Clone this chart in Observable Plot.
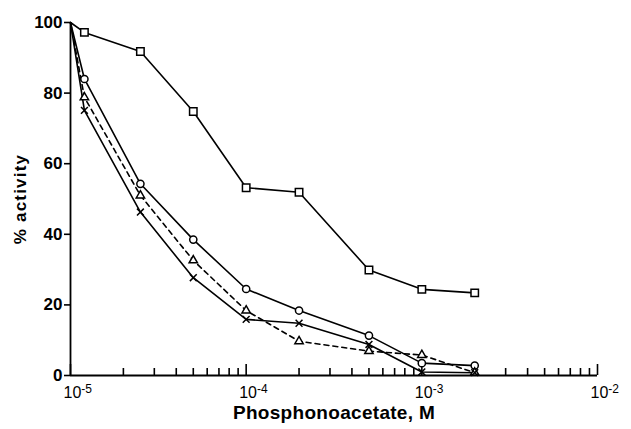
<!DOCTYPE html>
<html>
<head>
<meta charset="utf-8">
<script src="https://cdn.jsdelivr.net/npm/d3@7"></script>
<script src="https://cdn.jsdelivr.net/npm/@observablehq/plot@0.6"></script>
<style>
  html, body { margin: 0; padding: 0; background: #fff; }
  svg { font-family: "Liberation Sans", Arial, sans-serif; }
</style>
</head>
<body>
<div id="chart"></div>
<script>
// Concentrations of phosphonoacetate (M)
const conc = [1e-5, 1.2e-5, 2.5e-5, 5e-5, 1e-4, 2e-4, 5e-4, 1e-3, 2e-3];
// % activity for each series
const squareSeries   = [100, 97.2, 91.8, 74.8, 53.2, 51.9, 29.9, 24.4, 23.4];
const circleSeries   = [100, 84.0, 54.3, 38.5, 24.5, 18.4, 11.3, 3.5, 2.8];
const triangleSeries = [100, 78.8, 51.0, 32.6, 18.4, 9.7, 6.9, 5.8, 0.8];
const crossSeries    = [100, 75.1, 46.3, 27.7, 15.9, 14.8, 8.8, 1.0, 0.8];

const yTicks = [0, 20, 40, 60, 80, 100];
const xMajor = [1e-5, 1e-4, 1e-3, 1e-2];
const xMajorLabels = ["10^-5", "10^-4", "10^-3", "10^-2"];
const xMinor = [];
for (const dec of [1e-5, 1e-4, 1e-3]) for (let m = 2; m <= 9; m++) xMinor.push(m * dec);

const yTitle = "% activity";
const xTitle = "Phosphonoacetate, M";

const series = [
  {name: "square", values: squareSeries, symbol: "square", r: 4.2, dash: null},
  {name: "circle", values: circleSeries, symbol: "circle", r: 3.6, dash: null},
  {name: "triangle", values: triangleSeries, symbol: "triangle", r: 3.1, dash: "5,4"},
  {name: "cross", values: crossSeries, symbol: "times", r: 3.2, dash: null}
];

const lineMarks = series.map(s => Plot.line(conc.map((c, i) => ({x: c, y: s.values[i]})), {
  x: "x", y: "y", stroke: "black", strokeWidth: 1.6, strokeDasharray: s.dash
}));
const dotMarks = series.map(s => Plot.dot(conc.map((c, i) => ({x: c, y: s.values[i]})).slice(1), {
  x: "x", y: "y", symbol: () => s.symbol, r: s.r, stroke: "black", strokeWidth: 1.5,
  fill: s.symbol === "times" ? "none" : "white"
}));

const chart = Plot.plot({
  width: 631,
  height: 429,
  marginLeft: 70,
  marginRight: 34,
  marginTop: 22,
  marginBottom: 54,
  x: {type: "log", domain: [1e-5, 1e-2]},
  y: {domain: [0, 100]},
  style: {fontFamily: "'Liberation Sans', Arial, sans-serif", color: "black"},
  marks: [
    Plot.axisY({ticks: yTicks, tickSize: 6, tickPadding: 2, fontSize: 17, fontWeight: "bold", label: null, strokeWidth: 1.6}),
    Plot.axisX({ticks: xMinor, tickSize: -7, tickFormat: () => "", label: null, strokeWidth: 1.6}),
    Plot.axisX({ticks: xMajor, tickSize: -11, tickFormat: () => "", label: null, strokeWidth: 1.6}),
    Plot.axisX({ticks: xMajor, tickSize: 0, tickPadding: 11, fontSize: 16, textAnchor: "start", dx: -7,
      tickFormat: (d) => xMajorLabels[xMajor.indexOf(d)], label: null}),
    Plot.ruleY([0], {strokeWidth: 1.8}),
    Plot.ruleX([1e-5], {strokeWidth: 1.8}),
    ...lineMarks,
    ...dotMarks,
    Plot.text([yTitle], {frameAnchor: "left", textAnchor: "middle", lineAnchor: "middle", rotate: -90, dx: -50, fontSize: 17, fontWeight: "bold", text: d => d}),
    Plot.text([xTitle], {frameAnchor: "bottom", textAnchor: "middle", lineAnchor: "middle", dy: 37, fontSize: 19, fontWeight: "bold", text: d => d})
  ]
});

// Render exponents as superscripts, widen titles
d3.select(chart).selectAll("text").each(function() {
  const t = this.textContent;
  const sel = d3.select(this);
  if (/^10\^/.test(t)) {
    const exp = t.split("^")[1];
    sel.text("");
    sel.append("tspan").text("10");
    sel.append("tspan").attr("dy", "-0.4em").attr("font-size", 12).text(exp);
  } else if (t === yTitle) {
    sel.attr("letter-spacing", 1.2);
  } else if (t === xTitle) {
    sel.attr("letter-spacing", 0.3);
  }
});

document.getElementById("chart").appendChild(chart);
</script>
</body>
</html>
